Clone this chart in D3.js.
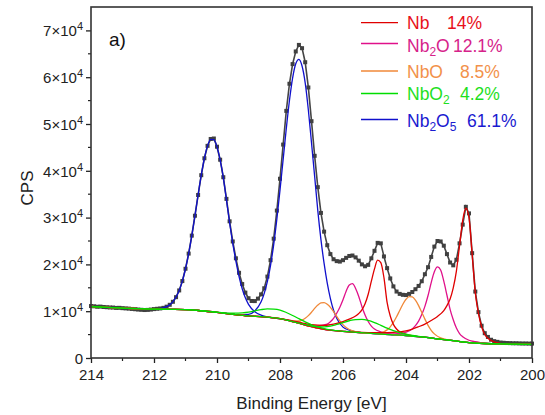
<!DOCTYPE html>
<html>
<head>
<meta charset="utf-8">
<script src="https://cdn.jsdelivr.net/npm/d3@7"></script>
<style>
  body { margin: 0; background: #fff; }
  svg { font-family: "Liberation Sans", Arial, sans-serif; }
</style>
</head>
<body>
<svg id="chart" width="545" height="415"></svg>
<script>
// measured spectrum, 214.0 -> 200.0 eV, 0.1 eV step
const energyStart = 214;
const energyStep = 0.1;
const cps = [
  11100, 11050, 10950, 10980, 10900, 10850, 10800, 10780, 10700, 10720,
  10650, 10600, 10550, 10480, 10420, 10350, 10300, 10250, 10280, 10350,
  10450, 10520, 10590, 10720, 10970, 11370, 12010, 13000, 14440, 16440,
  19070, 22310, 26150, 30400, 34830, 39060, 42680, 45330, 46800, 46900,
  45150, 42370, 38630, 34000, 29200, 24900, 21300, 18200, 15800, 13970,
  12770, 12180, 12160, 12685, 13600, 14900, 17400, 20900, 25500, 31500,
  38300, 45600, 52800, 58600, 62800, 65500, 66900, 66200, 63200, 57800,
  50600, 43200, 36500, 31000, 27000, 24100, 22200, 21100, 20700, 20600,
  20900, 21400, 21800, 21900, 21500, 20800, 20000, 19600, 19900, 21300,
  22900, 24600, 24500, 21700, 19200, 17000, 15300, 14200, 13700, 13500,
  13450, 13700, 14100, 14700, 15400, 16400, 17900, 19400, 21600, 23800,
  25000, 24900, 24000, 22200, 20400, 19800, 21000, 24500, 28500, 32300,
  30900, 22400, 14200, 9800, 6900, 5300, 4500, 3900, 3600, 3450,
  3300, 3250, 3200, 3180, 3150, 3150, 3120, 3100, 3100, 3080,
  3080
];

// shirley-type background [eV, cps]
const background = [
  [214, 11000], [213.5, 10825], [213, 10650], [212.5, 10550], [212, 10450],
  [211.5, 10400], [211, 10350], [210.5, 10100], [210, 9750], [209.5, 9350],
  [209, 9000], [208.5, 8800], [208, 8400], [207.5, 7600], [207, 6700],
  [206.5, 6000], [206, 5700], [205.5, 5450], [205, 5200], [204.5, 5000],
  [204, 4800], [203.5, 4500], [203, 4100], [202.5, 3700], [202, 3300],
  [201.5, 3100], [201, 3000], [200.5, 2950], [200, 2900]
];

// fitted components, peak regions only [eV, cps]
const nbPeaks = [
  [[207.8, 8175], [207.4, 7640], [207.0, 7130], [206.6, 6970], [206.4, 7110], [206.2, 7380],
   [206.0, 7790], [205.8, 8290], [205.6, 8960], [205.5, 9500], [205.4, 10280], [205.3, 11580],
   [205.2, 13630], [205.1, 16410], [205.0, 19050], [204.9, 20900], [204.8, 20380], [204.7, 17160],
   [204.6, 11880], [204.5, 8980], [204.4, 7190], [204.3, 6190], [204.2, 5595], [204.0, 5055],
   [203.8, 4775], [203.6, 4560]],
  [[205.6, 5500], [205.2, 5410], [204.8, 5400], [204.4, 5470], [204.0, 5820], [203.8, 6180],
   [203.6, 6680], [203.4, 7240], [203.2, 8010], [203.0, 8890], [202.8, 10140], [202.7, 11190],
   [202.6, 12610], [202.5, 14980], [202.4, 18570], [202.3, 23990], [202.2, 29400], [202.1, 32000],
   [202.0, 30000], [201.9, 22160], [201.8, 13940], [201.7, 9530], [201.6, 6670], [201.5, 5020],
   [201.4, 4210], [201.2, 3435], [201.0, 3140], [200.6, 2960]]
];
const nb2oPeaks = [
  [[207.4, 7440], [207.2, 7154], [207.0, 6910], [206.8, 6836], [206.6, 7076], [206.5, 7250],
   [206.4, 7760], [206.3, 8480], [206.2, 9560], [206.1, 10860], [206.0, 12460], [205.9, 14280],
   [205.8, 15580], [205.7, 15900], [205.6, 14860], [205.5, 13150], [205.4, 11020], [205.3, 9200],
   [205.2, 7800], [205.1, 6810], [205.0, 6180], [204.8, 5590], [204.6, 5250], [204.4, 5064],
   [204.2, 4880]],
  [[204.6, 5100], [204.4, 5145], [204.2, 5250], [204.0, 5540], [203.8, 6220], [203.7, 6930],
   [203.6, 7870], [203.5, 9270], [203.4, 11040], [203.3, 13350], [203.2, 16120], [203.1, 18430],
   [203.0, 19470], [202.9, 18800], [202.8, 16410], [202.7, 13410], [202.6, 10400], [202.5, 8170],
   [202.4, 6390], [202.3, 5230], [202.2, 4540], [202.0, 3790], [201.8, 3470], [201.6, 3260],
   [201.4, 3080]]
];
const nboPeaks = [
  [[207.8, 8100], [207.6, 7880], [207.4, 7905], [207.3, 8106], [207.2, 8485], [207.1, 9060],
   [207.0, 9780], [206.9, 10590], [206.8, 11305], [206.7, 11760], [206.6, 11840], [206.5, 11480],
   [206.4, 10825], [206.3, 9910], [206.2, 8900], [206.1, 7940], [206.0, 7125], [205.9, 6516],
   [205.8, 6085], [205.6, 5620], [205.4, 5423]],
  [[205.0, 5250], [204.8, 5384], [204.6, 6010], [204.5, 6665], [204.4, 7600], [204.3, 8800],
   [204.2, 10150], [204.1, 11480], [204.0, 12550], [203.9, 13110], [203.8, 13050], [203.7, 12370],
   [203.6, 11200], [203.5, 9770], [203.4, 8300], [203.3, 6980], [203.2, 5925], [203.1, 5150],
   [202.9, 4284], [202.7, 3910], [202.5, 3700]]
];
const nbo2Peaks = [
  [[210.2, 9900], [210.0, 9784], [209.8, 9666], [209.6, 9590], [209.4, 9582], [209.2, 9659],
   [209.0, 9812], [208.8, 10075], [208.6, 10335], [208.4, 10485], [208.2, 10454], [208.0, 10250],
   [207.8, 9723], [207.6, 9090], [207.4, 8400], [207.2, 7716], [207.0, 7101], [206.8, 6642],
   [206.6, 6252], [206.4, 5990], [206.2, 5830]],
  [[207.6, 7770], [207.4, 7446], [207.2, 7123], [207.0, 6840], [206.8, 6702], [206.6, 6664],
   [206.4, 6818], [206.2, 7162], [206.0, 7567], [205.8, 7960], [205.6, 8220], [205.4, 8250],
   [205.2, 8020], [205.0, 7560], [204.8, 6987], [204.6, 6382], [204.4, 5838], [204.2, 5404],
   [204.0, 5082], [203.8, 4820], [203.6, 4623], [203.4, 4446], [203.2, 4260]]
];
const nb2o5Peaks = [
  [[212.0, 10460], [211.8, 10590], [211.6, 10965], [211.4, 12010], [211.2, 14440], [211.1, 16440],
   [211.0, 19070], [210.9, 22310], [210.8, 26150], [210.7, 30400], [210.6, 34830], [210.5, 39060],
   [210.4, 42680], [210.3, 45330], [210.2, 46710], [210.1, 46640], [210.0, 45120], [209.9, 42320],
   [209.8, 38550], [209.7, 33800], [209.6, 28900], [209.5, 24500], [209.4, 20700], [209.3, 17400],
   [209.2, 14800], [209.1, 12850], [209.0, 11450], [208.8, 9885], [208.6, 9140], [208.4, 8800],
   [208.2, 8560]],
  [[209.4, 9280], [209.0, 9340], [208.8, 10050], [208.6, 12000], [208.5, 13820], [208.4, 16350],
   [208.3, 19810], [208.2, 24240], [208.1, 29650], [208.0, 35850], [207.9, 42450], [207.8, 49030],
   [207.7, 55020], [207.6, 59820], [207.5, 62870], [207.4, 63820], [207.3, 62400], [207.2, 58800],
   [207.1, 53000], [207.0, 46000], [206.9, 38800], [206.8, 31500], [206.7, 25300], [206.6, 20200],
   [206.5, 16000], [206.4, 12700], [206.3, 10200], [206.2, 8500], [206.0, 6600], [205.8, 5935],
   [205.6, 5586], [205.4, 5400]]
];

const legendNames = ["Nb", "Nb2O", "NbO", "NbO2", "Nb2O5"];
const legendShares = ["14%", "12.1%", "8.5%", "4.2%", "61.1%"];
const legendColors = ["#e8101a", "#d6238a", "#f2914a", "#1ee01e", "#1a1ad0"];
const lineColors = ["#e00000", "#e0108a", "#f08838", "#00dd00", "#1010cc"];

const xTicks = [214, 212, 210, 208, 206, 204, 202, 200];
const yTicks = [0, 10000, 20000, 30000, 40000, 50000, 60000, 70000];

const svg = d3.select("#chart");
const plotLeft = 91, plotRight = 532, plotTop = 7, plotBottom = 358;

const x = d3.scaleLinear().domain([214, 200]).range([plotLeft, plotRight]);
const y = d3.scaleLinear().domain([0, 75000]).range([plotBottom, plotTop]);

const points = cps.map((v, i) => [energyStart - i * energyStep, v]);

const withBackground = seg => {
    const lo = d3.min(seg, d => d[0]);
    const hi = d3.max(seg, d => d[0]);
    const outside = background.filter(d => d[0] < lo - 0.01 || d[0] > hi + 0.01);
    return outside.concat(seg).sort((a, b) => b[0] - a[0]);
};

const line = d3.line()
    .x(d => x(d[0]))
    .y(d => y(d[1]))
    .curve(d3.curveMonotoneX);

// measured data
const dataG = svg.append("g");
dataG.append("path")
     .attr("d", d3.line().x(d => x(d[0])).y(d => y(d[1]))(points))
     .attr("fill", "none")
     .attr("stroke", "#454545")
     .attr("stroke-width", 1.6);

dataG.selectAll("rect")
     .data(points)
     .enter()
     .append("rect")
     .attr("x", d => x(d[0]) - 2)
     .attr("y", d => y(d[1]) - 2)
     .attr("width", 4)
     .attr("height", 4)
     .attr("fill", "#404040");

// components, green last so it sits on the baseline
const drawOrder = [
    [nb2o5Peaks, lineColors[4]],
    [nb2oPeaks, lineColors[1]],
    [nboPeaks, lineColors[2]],
    [nbPeaks, lineColors[0]],
    [nbo2Peaks, lineColors[3]]
];
drawOrder.forEach(([peaks, color]) => {
    peaks.forEach(seg => {
        svg.append("path")
           .attr("d", line(withBackground(seg)))
           .attr("fill", "none")
           .attr("stroke", color)
           .attr("stroke-width", 1.3);
    });
});

// axes
const xAxis = svg.append("g")
    .attr("transform", `translate(0,${plotBottom})`)
    .call(d3.axisBottom(x).tickValues(xTicks).tickFormat(d3.format("d"))
          .tickSize(5).tickSizeOuter(0).tickPadding(6));
xAxis.select(".domain").remove();
xAxis.selectAll("line").attr("stroke", "#222").attr("stroke-width", 1.3);
xAxis.selectAll("text").style("font-size", "15px").attr("fill", "#222");

svg.append("g")
   .selectAll("line")
   .data([213, 211, 209, 207, 205, 203, 201])
   .enter()
   .append("line")
   .attr("x1", d => x(d)).attr("x2", d => x(d))
   .attr("y1", plotBottom).attr("y2", plotBottom + 3)
   .attr("stroke", "#222").attr("stroke-width", 1.2);

const yAxis = svg.append("g")
    .attr("transform", `translate(${plotLeft},0)`)
    .call(d3.axisLeft(y).tickValues(yTicks).tickFormat("")
          .tickSize(5).tickSizeOuter(0));
yAxis.select(".domain").remove();
yAxis.selectAll("line").attr("stroke", "#222").attr("stroke-width", 1.3);

yAxis.selectAll(".tick")
     .append("text")
     .attr("x", -8)
     .attr("dy", "0.35em")
     .attr("text-anchor", "end")
     .attr("fill", "#222")
     .style("font-size", "15px")
     .each(function (d) {
         const t = d3.select(this);
         if (d === 0) { t.text("0"); return; }
         t.append("tspan").text(`${d / 10000}×10`);
         t.append("tspan").attr("dy", "-6").style("font-size", "11px").text("4");
     });

svg.append("g")
   .selectAll("line")
   .data([5000, 15000, 25000, 35000, 45000, 55000, 65000])
   .enter()
   .append("line")
   .attr("x1", plotLeft - 3).attr("x2", plotLeft)
   .attr("y1", d => y(d)).attr("y2", d => y(d))
   .attr("stroke", "#222").attr("stroke-width", 1.2);

// frame
svg.append("rect")
   .attr("x", plotLeft).attr("y", plotTop)
   .attr("width", plotRight - plotLeft).attr("height", plotBottom - plotTop)
   .attr("fill", "none")
   .attr("stroke", "#333")
   .attr("stroke-width", 1.6);

// titles
svg.append("text")
   .attr("x", (plotLeft + plotRight) / 2)
   .attr("y", 409)
   .attr("text-anchor", "middle")
   .attr("fill", "#222")
   .style("font-size", "17px")
   .text("Binding Energy [eV]");

svg.append("text")
   .attr("transform", "translate(33,188) rotate(-90)")
   .attr("text-anchor", "middle")
   .attr("fill", "#222")
   .style("font-size", "17px")
   .text("CPS");

svg.append("text")
   .attr("x", 109)
   .attr("y", 46)
   .attr("fill", "#111")
   .style("font-size", "19px")
   .text("a)");

// legend
const legendLineY = [22.7, 43.5, 71, 93.5, 119.5];
const legendTextY = [29.3, 51.5, 77.5, 100, 126.5];
const shareX = [447, 453, 460, 460, 467];

legendNames.forEach((name, i) => {
    svg.append("line")
       .attr("x1", 361).attr("x2", 398)
       .attr("y1", legendLineY[i]).attr("y2", legendLineY[i])
       .attr("stroke", lineColors[i])
       .attr("stroke-width", 1.3);

    const t = svg.append("text")
                 .attr("x", 407)
                 .attr("y", legendTextY[i])
                 .attr("fill", legendColors[i])
                 .style("font-size", "17.5px");

    let lowered = false;
    name.split(/(\d)/).filter(s => s.length).forEach(part => {
        if (/\d/.test(part)) {
            t.append("tspan").attr("dy", "4").style("font-size", "12px").text(part);
            lowered = true;
        } else {
            t.append("tspan").attr("dy", lowered ? "-4" : null).text(part);
            lowered = false;
        }
    });

    svg.append("text")
       .attr("x", shareX[i])
       .attr("y", legendTextY[i])
       .attr("fill", legendColors[i])
       .style("font-size", "17.5px")
       .text(legendShares[i]);
});
</script>
</body>
</html>
